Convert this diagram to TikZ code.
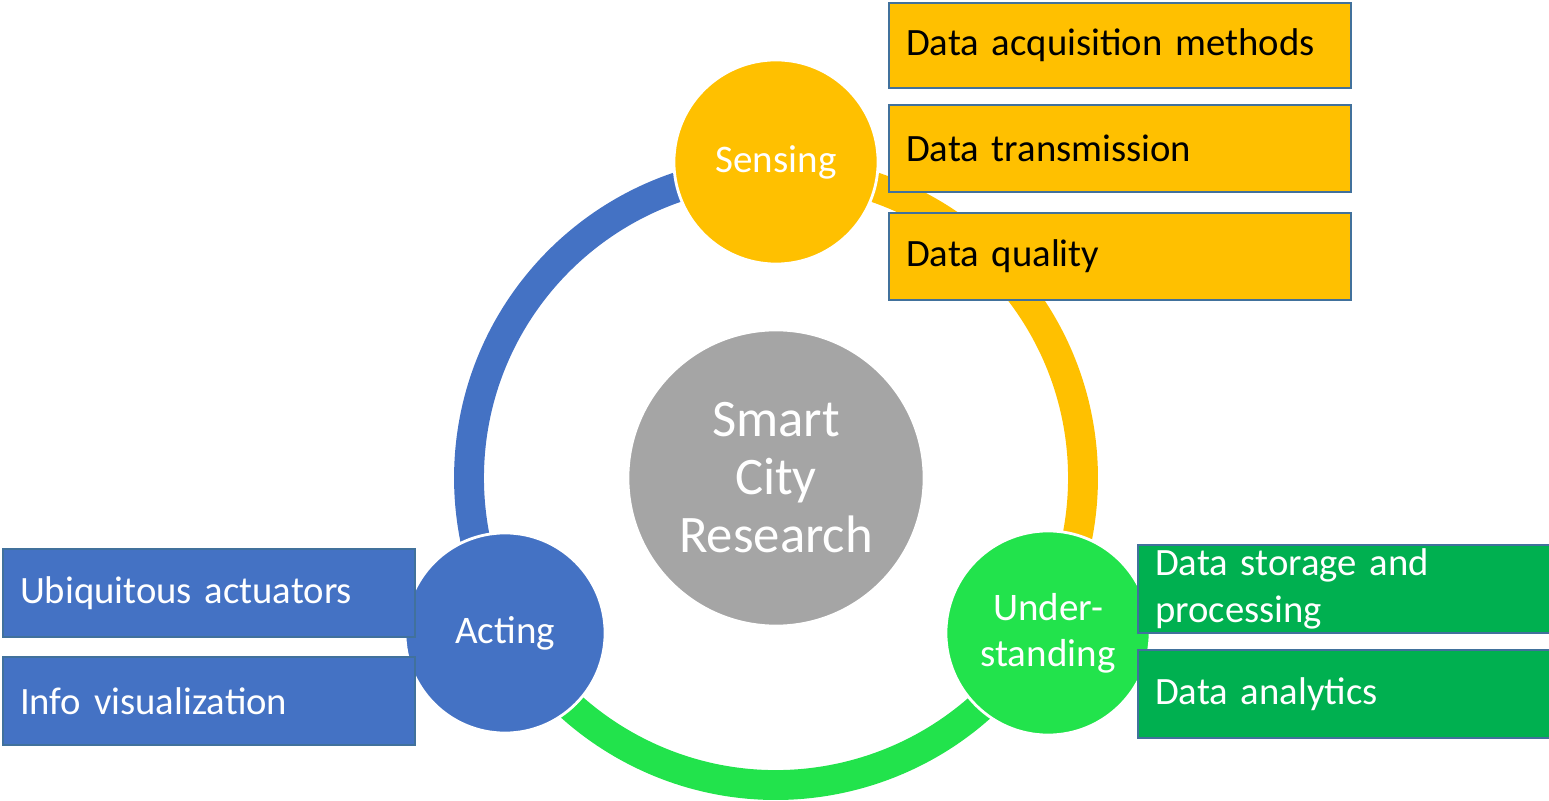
\documentclass[tikz,border=0pt]{standalone}
\usepackage{fontspec}
\setmainfont{Carlito}
\usetikzlibrary{calc}
\definecolor{yel}{HTML}{FFC000}
\definecolor{blu}{HTML}{4472C4}
\definecolor{grn}{HTML}{00B050}
\definecolor{lgrn}{HTML}{22E34C}
\definecolor{gry}{HTML}{A5A5A5}
\definecolor{bord}{HTML}{41719C}
\begin{document}
\begin{tikzpicture}[x=0.01cm,y=0.01cm,
  ring/.style={line width=8.5pt},
  phase/.style={circle, draw=white, line width=0.8pt, text=white, align=center,
    minimum size=2.04cm, inner sep=0pt, font=\fontsize{11.1}{13}\selectfont},
  item/.style 2 args={rectangle, draw=bord, line width=0.6pt, anchor=north west,
    minimum height=#2, text width=#1, inner xsep=0.17cm, inner ysep=0pt,
    align=left, font=\fontsize{11}{13.2}\selectfont},
 ]
\useasboundingbox (0,0) rectangle (1549,800);
\coordinate (C) at (776,322);
% ring segments
\draw[ring, blu] ($(C)+(90:307)$) arc[start angle=90, end angle=210, radius=307];
\draw[ring, yel] ($(C)+(90:307)$) arc[start angle=90, end angle=-30, radius=307];
\draw[ring, lgrn] ($(C)+(330:307)$) arc[start angle=330, end angle=210, radius=307];
% centre
\node[circle, fill=gry, draw=white, line width=0.8pt, minimum size=2.96cm, inner sep=0pt,
  text=white, align=center, font=\fontsize{15}{16.5}\selectfont] (M) at (C) {Smart\\City\\Research};
% phases
\node[phase, fill=yel] (S) at (776,638) {Sensing};
\node[phase, fill=blu, minimum size=2.0cm] (A) at (505,167) {Acting};
\node[phase, fill=lgrn] (U) at (1048,167) {Under-\\standing};
% sensing items
\node[item={4.28cm}{0.85cm}, fill=yel, text=black] (s1) at (888,798) {Data acquisition methods};
\node[item={4.28cm}{0.87cm}, fill=yel, text=black] (s2) at (888,696) {Data transmission};
\node[item={4.28cm}{0.87cm}, fill=yel, text=black] (s3) at (888,588) {Data quality};
% acting items
\node[item={3.78cm}{0.88cm}, fill=blu, text=white] (a1) at (2,252) {Ubiquitous actuators};
\node[item={3.78cm}{0.88cm}, fill=blu, text=white] (a2) at (2,144) {Info visualization};
% understanding items
\node[item={3.78cm}{0.88cm}, fill=grn, text=white] (u1) at (1137,256) {Data storage and\\processing};
\node[item={3.78cm}{0.88cm}, fill=grn, text=white] (u2) at (1137,151) {Data analytics};
\end{tikzpicture}
\end{document}
